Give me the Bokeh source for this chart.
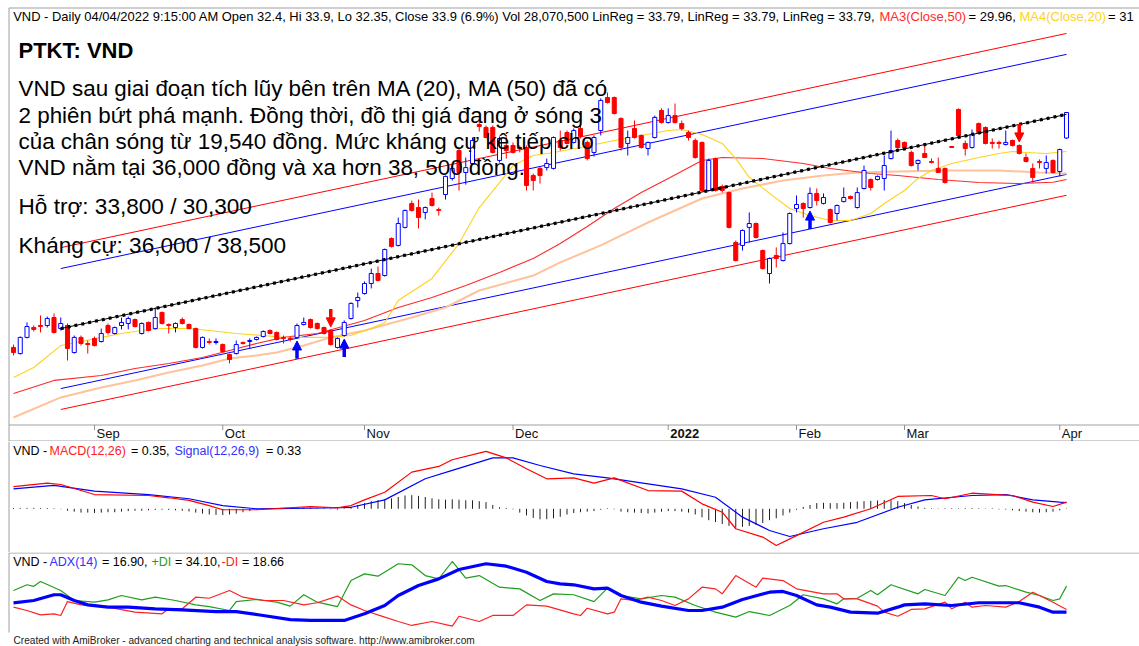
import numpy as np
from bokeh.plotting import figure
from bokeh.models import Range1d, ColumnDataSource, Arrow, NormalHead
from bokeh.layouts import column
from bokeh.embed import file_html
from bokeh.resources import INLINE
from bokeh.core.properties import value

# ---------------- data ----------------
opens = [20.08,19.72,20.67,21.25,21.37,21.37,21.84,21.19,21.37,19.78,
         20.67,20.31,20.61,20.43,21.37,20.90,21.37,21.49,21.72,20.90,
         21.55,21.19,22.14,21.43,21.25,21.72,21.43,21.19,20.08,20.43,
         20.37,20.25,19.66,19.72,20.37,20.43,20.55,20.72,21.08,20.96,
         20.67,20.61,20.67,21.43,21.72,21.49,21.25,21.08,20.08,20.78,
         21.78,22.84,23.25,23.84,24.43,24.31,26.49,26.08,27.14,28.55,
         28.31,28.02,28.84,28.19,29.08,30.02,31.66,30.37,30.90,33.19,
         33.02,33.02,31.08,31.96,31.96,31.84,31.84,30.19,30.61,30.66,
         30.61,32.25,32.72,32.14,32.96,32.14,31.55,32.84,34.78,34.78,
         33.55,32.08,32.96,32.55,31.78,32.43,34.02,33.31,33.72,33.25,
         32.72,32.25,32.14,29.31,31.19,29.55,29.19,26.25,26.08,27.14,
         27.37,25.78,24.43,25.49,25.19,26.19,28.25,28.55,28.31,29.14,
         28.55,28.19,27.96,28.66,28.96,28.31,29.43,29.96,29.96,30.02,
         31.19,32.25,32.14,31.55,30.90,31.49,31.02,30.61,30.61,31.90,
         34.08,32.08,31.84,33.25,33.02,32.14,32.14,32.02,32.25,31.96,
         31.25,30.61,31.02,30.61,31.08,30.43,32.40]
highs = [20.25,20.72,21.55,21.37,21.96,21.90,22.08,21.84,21.49,20.78,
         20.78,20.49,20.72,21.19,21.49,21.31,21.84,21.90,21.78,21.55,
         21.61,22.43,22.19,21.49,21.55,21.84,21.49,21.25,20.72,20.61,
         20.61,20.31,19.72,20.49,20.43,20.61,20.72,21.08,21.14,21.02,
         20.78,20.72,21.49,21.84,21.78,21.55,21.31,21.14,20.67,21.67,
         22.73,23.31,23.96,24.72,24.84,25.90,26.55,27.72,28.19,28.72,
         28.78,28.37,29.19,28.31,30.19,30.78,31.84,31.25,32.43,33.55,
         33.14,33.14,32.49,32.55,32.14,31.96,31.96,30.31,30.72,31.19,
         32.49,32.84,32.84,32.96,33.14,32.25,32.55,34.73,35.08,34.84,
         33.61,32.84,33.43,32.61,32.19,33.72,34.14,34.14,34.43,33.43,
         32.84,32.37,32.19,31.19,31.25,29.66,29.25,26.37,27.02,28.02,
         27.43,25.84,25.37,25.96,26.84,28.02,29.02,28.61,29.49,29.43,
         29.14,28.25,28.49,29.49,29.02,29.49,30.78,30.02,30.19,31.37,
         32.84,32.37,32.19,31.66,31.14,31.96,31.19,31.25,30.66,31.90,
         34.14,32.25,32.90,33.31,33.08,32.37,32.25,32.84,32.31,32.02,
         31.49,30.90,31.14,31.37,31.14,31.78,33.90]
lows = [19.61,19.66,20.61,21.02,20.96,21.25,20.90,21.08,19.31,19.72,
        20.19,19.72,20.14,20.37,20.84,20.84,21.14,21.14,21.25,20.84,
        21.02,21.14,21.43,20.90,20.96,21.43,21.14,20.02,20.02,20.25,
        20.25,19.78,19.14,19.66,20.25,20.02,20.49,20.67,20.84,20.49,
        20.31,20.43,20.61,21.37,21.19,21.14,20.84,20.19,20.02,20.72,
        21.72,22.43,23.19,23.55,23.96,24.25,25.96,26.02,27.08,28.08,
        27.08,27.61,28.37,27.84,28.78,29.90,29.31,29.66,30.84,32.78,
        32.37,31.49,30.96,31.19,31.49,31.55,29.31,29.31,29.72,30.49,
        30.55,31.66,32.02,32.08,32.37,31.08,31.31,32.55,34.43,33.78,
        31.66,31.37,32.37,31.78,31.37,32.37,33.25,33.25,33.25,32.84,
        32.25,31.19,29.25,29.25,29.25,29.19,27.08,25.14,25.78,26.25,
        26.49,24.66,23.84,24.78,25.14,26.14,28.02,27.72,28.25,28.43,
        28.49,27.37,27.55,28.61,28.78,28.25,29.37,29.31,29.90,29.31,
        31.14,31.78,31.78,30.72,30.49,31.25,30.90,30.37,29.72,31.84,
        32.49,31.37,31.78,32.66,32.02,31.78,31.78,31.96,31.90,31.43,
        30.96,29.78,30.61,30.31,30.31,30.14,32.35]
closes = [19.78,20.67,21.31,21.14,21.31,21.78,20.96,21.49,20.02,20.67,
          20.31,20.25,20.19,20.90,20.96,21.25,21.55,21.78,21.31,21.49,
          21.08,21.84,21.49,21.37,21.49,21.49,21.19,20.08,20.67,20.37,
          20.43,19.84,19.37,20.25,20.31,20.49,20.67,21.02,20.90,20.55,
          20.61,20.55,21.37,21.55,21.25,21.19,20.90,20.25,20.61,21.55,
          22.67,23.02,23.84,24.43,24.02,25.84,26.02,27.37,28.14,28.14,
          27.72,28.31,28.43,28.14,30.14,30.61,30.37,30.66,32.25,33.08,
          32.43,31.55,32.37,31.66,31.55,31.78,29.61,29.90,30.19,30.90,
          32.43,31.84,32.08,32.84,32.49,31.19,32.43,34.61,34.49,33.84,
          31.84,32.43,32.43,31.84,32.14,33.61,33.31,33.72,33.31,32.96,
          32.43,31.25,29.31,31.08,29.31,29.31,27.14,25.19,26.96,27.37,
          26.55,24.72,25.31,25.31,26.19,27.96,28.49,28.25,29.14,28.72,
          28.90,27.43,28.43,28.90,28.84,29.19,30.49,29.49,30.14,30.78,
          31.66,31.84,31.84,30.78,31.08,31.25,30.96,30.37,29.78,31.84,
          32.55,31.78,32.61,32.72,32.08,32.08,32.08,32.14,31.96,31.49,
          31.02,30.08,30.96,30.96,30.37,31.72,33.90]

month_labels = ["Sep", "Oct", "Nov", "Dec", "2022", "Feb", "Mar", "Apr"]
month_index = [12, 31, 52, 74, 97, 116, 132, 155]

ma20_idx = [0,3,7,10,13,16,19,22,26,29,33,37,40,43,47,50,53,55,57,62,66,69,72,74,77,80,84,89,93,97,
            99,102,105,107,109,112,115,118,121,124,127,129,132,134,136,139,143,146,148,150,153,156]
ma20_val = [18.31,18.90,20.19,20.43,20.67,20.90,21.08,21.19,21.19,21.08,20.90,20.78,20.67,20.67,20.67,
            20.78,21.19,21.55,22.84,24.14,26.19,28.31,29.78,30.78,31.37,31.55,31.84,32.25,32.55,32.84,
            32.90,32.61,32.08,31.19,30.08,29.14,28.25,27.84,27.55,27.55,27.96,28.55,29.31,30.02,30.49,
            30.90,31.25,31.49,31.61,31.55,31.49,31.61]
ma50_idx = [0,6,13,18,23,28,32,36,40,45,52,57,62,67,72,77,81,85,89,93,97,102,105,111,117,121,127,131,
            137,143,149,154,156]
ma50_val = [17.37,18.14,18.43,18.84,19.14,19.49,19.90,20.31,20.67,20.90,21.67,22.43,23.02,23.72,24.49,
            25.31,26.19,27.19,28.25,29.19,30.02,31.08,31.25,31.19,30.90,30.61,30.31,30.19,29.96,29.78,
            29.72,29.80,29.96]
slow_idx = [0,7,13,18,23,28,32,36,39,43,47,52,59,64,69,77,81,87,94,102,108,114,120,125,131,139,146,152,156]
slow_val = [15.96,17.14,17.72,18.14,18.61,19.02,19.43,19.61,19.78,20.19,20.67,21.08,21.84,22.43,23.43,
            24.31,25.08,26.08,27.43,28.84,29.43,29.90,30.19,30.37,30.43,30.49,30.49,30.37,30.31]

linreg_idx = [7, 156]
linreg_val = [21.19, 33.79]
band_inner = 3.53
band_outer = 4.76

buy_idx = [42, 49, 118]
sell_idx = [47, 149]

macd_idx = [0,5,7,12,20,23,26,29,31,36,44,48,50,52,55,59,63,65,70,73,76,79,83,86,89,94,99,102,105,107,
            111,113,116,120,123,127,131,136,138,142,148,151,154,156]
macd_val = [1.17,1.35,1.28,0.75,0.70,0.58,0.44,0.17,-0.05,-0.05,0.12,0.05,0.17,0.47,0.87,1.93,2.23,2.58,
            3.02,2.68,2.11,1.58,1.63,1.35,1.63,0.96,0.93,0.26,-0.18,-1.05,-1.49,-1.93,-1.41,-0.71,-0.44,
            0.0,0.65,0.70,0.53,0.82,0.70,0.35,0.12,0.35]
signal_idx = [0,6,12,20,26,31,36,46,50,55,61,65,71,74,78,83,88,99,104,108,112,115,120,125,131,135,142,
              147,151,155,156]
signal_val = [1.05,1.23,0.93,0.75,0.53,0.17,0.0,0.05,0.08,0.47,1.58,2.02,2.68,2.68,2.28,1.84,1.63,1.05,
              0.61,-0.44,-1.14,-1.46,-1.05,-0.71,0.08,0.47,0.70,0.75,0.47,0.35,0.33]
macd_hist = [0.04,0.04,0.05,0.05,0.04,0.04,0.03,-0.02,-0.1,-0.15,
             -0.2,-0.2,-0.22,-0.2,-0.18,-0.18,-0.15,-0.12,-0.1,-0.1,
             -0.08,-0.06,-0.05,-0.06,-0.08,-0.1,-0.14,-0.2,-0.25,-0.3,
             -0.32,-0.33,-0.3,-0.25,-0.18,-0.12,-0.06,-0.03,0.02,0.04,
             0.04,0.03,0.05,0.06,0.05,0.04,0.03,-0.03,-0.04,0.03,
             0.1,0.2,0.3,0.4,0.45,0.5,0.55,0.62,0.7,0.72,
             0.68,0.62,0.55,0.5,0.48,0.5,0.48,0.45,0.45,0.4,
             0.35,0.2,0.08,0.04,-0.03,-0.2,-0.35,-0.48,-0.55,-0.55,
             -0.5,-0.42,-0.3,-0.22,-0.18,-0.15,-0.12,-0.05,0.03,-0.03,
             -0.15,-0.18,-0.2,-0.22,-0.25,-0.2,-0.15,-0.12,-0.12,-0.15,
             -0.2,-0.3,-0.45,-0.6,-0.7,-0.8,-0.9,-1.0,-0.95,-0.9,
             -0.85,-0.75,-0.6,-0.5,-0.35,-0.2,-0.05,0.1,0.2,0.3,
             0.32,0.3,0.3,0.32,0.35,0.38,0.4,0.42,0.44,0.46,
             0.45,0.4,0.3,0.2,0.12,0.05,0.03,0.02,0.03,0.04,
             0.03,0.04,0.04,0.03,0.02,0.03,-0.03,-0.04,-0.08,-0.12,
             -0.15,-0.18,-0.2,-0.18,-0.15,-0.08,0.02]

adx_idx = [0,3,6,7,9,11,14,17,21,25,30,33,37,41,44,49,52,55,57,60,63,66,70,73,76,79,81,83,86,88,
           90,93,96,100,102,105,108,112,114,116,119,121,124,128,131,132,135,139,143,149,152,154,156]
adx_val = [23.0,24.6,28.4,28.4,24.6,21.7,20.2,20.2,19.1,18.4,17.3,17.3,14.7,12.0,11.4,11.4,15.8,21.3,
           27.9,34.5,38.9,45.1,48.9,47.3,43.3,37.2,35.6,35.0,32.3,32.8,27.9,23.5,20.9,18.0,18.0,20.2,
           25.3,30.1,30.6,27.9,21.7,20.2,16.9,16.2,20.2,21.7,22.4,21.3,23.1,23.1,20.2,16.9,16.9]
pdi_idx = [0,2,3,4,7,9,12,14,16,19,21,24,27,29,32,33,36,39,41,43,45,48,50,52,54,57,59,61,63,65,
           67,69,72,75,78,80,83,86,88,90,93,96,98,101,104,107,109,112,115,117,120,122,123,125,127,128,
           130,134,135,138,140,141,142,146,147,150,152,154,155,156]
pdi_val = [31.2,35.0,34.0,37.2,31.2,24.6,23.5,25.0,27.9,25.0,26.8,24.6,21.7,20.6,18.0,23.9,25.3,23.5,
           20.9,28.4,23.5,20.6,37.8,42.2,40.7,48.9,48.2,41.1,38.9,50.4,39.4,41.1,33.4,32.3,24.6,29.0,
           28.4,23.9,32.8,27.9,25.7,27.9,26.8,21.3,16.9,13.6,17.3,14.7,21.3,28.4,25.7,22.4,25.7,26.1,
           31.2,28.4,35.0,29.0,31.9,27.9,40.0,37.8,40.0,34.1,34.5,30.1,27.9,24.6,25.7,34.1]
mdi_idx = [0,2,4,6,7,8,10,14,18,22,23,25,27,29,32,34,37,40,43,45,48,50,52,55,57,59,62,65,66,69,
           71,74,76,79,83,84,85,88,89,90,92,94,96,98,100,102,104,105,107,110,111,114,116,120,122,123,
           125,128,129,131,133,135,138,139,141,142,144,147,149,151,152,154,156]
mdi_val = [20.2,18.0,15.1,15.8,14.7,23.9,21.7,20.2,16.9,15.8,19.1,19.1,26.8,26.1,31.2,26.8,24.6,24.6,
           21.7,23.1,27.5,21.7,18.0,13.6,10.7,8.1,10.7,7.6,14.2,10.7,14.7,14.7,21.7,20.9,15.8,14.7,
           19.5,15.8,16.9,25.7,24.6,26.8,24.6,21.3,25.7,33.4,32.3,29.0,41.1,33.4,39.4,37.8,32.3,29.0,
           29.0,25.7,25.7,20.9,16.9,14.2,18.7,19.1,23.5,19.1,23.5,20.2,21.3,20.2,23.9,30.1,27.9,23.5,18.66]

title_text = ("VND - Daily 04/04/2022 9:15:00 AM Open 32.4, Hi 33.9, Lo 32.35, Close 33.9 (6.9%) "
              "Vol 28,070,500 LinReg = 33.79, LinReg = 33.79, LinReg = 33.79,")
note_title = "PTKT: VND"
note_lines = ["VND sau giai đoạn tích lũy bên trên MA (20), MA (50) đã có",
              "2 phiên bứt phá mạnh. Đồng thời, đồ thị giá đang ở sóng 3",
              "của chân sóng từ 19,540 đồng. Mức kháng cự kế tiếp cho",
              "VND nằm tại 36,000 đồng và xa hơn 38, 500 đồng."]
support_text = "Hỗ trợ: 33,800 / 30,300"
resist_text = "Kháng cự: 36,000 / 38,500"
footer_text = ("Created with AmiBroker - advanced charting and technical analysis software. "
               "http://www.amibroker.com")

# ---------------- styling / layout helpers ----------------
FONT = "Liberation Sans"
RED = "#FF0000"
BLUE = "#0000FF"
YEL = "#FFD21A"
PEACH = "#FFC29A"
GREEN = "#1E9E1E"
GRAY = "#A0A0A0"
W = 1139

def XP(px):  # page pixel -> bar index (for placing annotations)
    return (px - 13.0) / 6.75

def YP(py):
    return 33.9 - (py - 112.0) / 17.0

def YM(py):
    return (508.3 - py) / 19.0

def YA(py):
    return (637.2 - py) / 1.512

def make_fig(h, yr, xr):
    f = figure(width=W, height=h, x_range=xr, y_range=yr,
               x_axis_location=None, y_axis_location=None, toolbar_location=None,
               output_backend="svg", min_border=0, outline_line_color=None)
    f.grid.grid_line_color = None
    f.background_fill_color = "white"
    f.border_fill_color = "white"
    return f

def put_text(f, txt, px, y, color="#000000", size="13px", bold=False, baseline="middle"):
    f.text(x=[XP(px)], y=[y], text=[txt], text_color=color, text_font=value(FONT),
           text_font_size=value(size), text_font_style="bold" if bold else "normal",
           text_baseline=baseline, text_align="left")

xr = Range1d(XP(0), XP(W))

# ---------------- price pane ----------------
p = make_fig(441, Range1d(YP(441), YP(0)), xr)

for off, col in [(band_outer, RED), (band_inner, BLUE), (-band_inner, BLUE), (-band_outer, RED)]:
    p.line(linreg_idx, [linreg_val[0] + off, linreg_val[1] + off], line_color=col, line_width=1)

p.line(slow_idx, slow_val, line_color=PEACH, line_width=2)
p.line(ma50_idx, ma50_val, line_color="#FF2A2A", line_width=1.1)
p.line(ma20_idx, ma20_val, line_color=YEL, line_width=1.1)

o = np.array(opens); h = np.array(highs); l = np.array(lows); c = np.array(closes)
idx = np.arange(len(o))
up = c >= o
dn = ~up
p.segment(x0=idx[up], y0=l[up], x1=idx[up], y1=h[up], line_color=BLUE, line_width=1)
p.segment(x0=idx[dn], y0=l[dn], x1=idx[dn], y1=h[dn], line_color=RED, line_width=1)
p.vbar(x=idx[up], width=0.6, top=c[up], bottom=o[up], fill_color="white", line_color=BLUE, line_width=1)
p.vbar(x=idx[dn], width=0.6, top=o[dn], bottom=c[dn], fill_color=RED, line_color=RED, line_width=1)

p.line(linreg_idx, linreg_val, line_color="black", line_width=1)
p.line(linreg_idx, linreg_val, line_color="black", line_width=3.2, line_dash="3 4")

buy_src = ColumnDataSource(dict(x=buy_idx, y0=[l[i] - 1.2 for i in buy_idx], y1=[l[i] - 0.15 for i in buy_idx]))
sell_src = ColumnDataSource(dict(x=sell_idx, y0=[h[i] + 1.2 for i in sell_idx], y1=[h[i] + 0.15 for i in sell_idx]))
p.add_layout(Arrow(end=NormalHead(size=9, fill_color=BLUE, line_color=BLUE, line_width=1),
                   x_start="x", y_start="y0", x_end="x", y_end="y1", source=buy_src,
                   line_color=BLUE, line_width=3.5))
p.add_layout(Arrow(end=NormalHead(size=9, fill_color=RED, line_color=RED, line_width=1),
                   x_start="x", y_start="y0", x_end="x", y_end="y1", source=sell_src,
                   line_color=RED, line_width=3.5))

# borders and month strip
p.segment(x0=[XP(8.5)], y0=[YP(7.5)], x1=[XP(W)], y1=[YP(7.5)], line_color=GRAY, line_width=1)
p.segment(x0=[XP(8.5)], y0=[YP(424.5)], x1=[XP(W)], y1=[YP(424.5)], line_color=GRAY, line_width=1)
p.segment(x0=[XP(8.5)], y0=[YP(440.5)], x1=[XP(W)], y1=[YP(440.5)], line_color=GRAY, line_width=1)
p.segment(x0=[XP(8.5)], y0=[YP(7.5)], x1=[XP(8.5)], y1=[YP(441)], line_color=GRAY, line_width=1)
p.segment(x0=month_index, y0=[YP(424.5)] * len(month_index), x1=month_index,
          y1=[YP(429.5)] * len(month_index), line_color="#909090", line_width=1)
for lab, mi in zip(month_labels, month_index):
    p.text(x=[mi + 0.3], y=[YP(433)], text=[lab], text_color="#111111", text_font=value(FONT),
           text_font_size=value("13px"), text_font_style="bold" if lab == "2022" else "normal",
           text_baseline="middle", text_align="left")

# title line
put_text(p, title_text, 12.7, YP(15.5), size="12.94px")
put_text(p, "MA3(Close,50)", 879, YP(15.5), color="#FF2A2A", size="13px")
put_text(p, "= 29.96,", 968, YP(15.5), size="13px")
put_text(p, "MA4(Close,20)", 1019, YP(15.5), color=YEL, size="13px")
put_text(p, "= 31", 1107.5, YP(15.5), size="13px")

# analyst notes
put_text(p, note_title, 18, YP(50), size="22px", bold=True, baseline="alphabetic")
for txt, base in zip(note_lines, [88, 114.5, 141, 167]):
    put_text(p, txt, 18, YP(base), size="22.4px", baseline="alphabetic")
put_text(p, support_text, 18, YP(206), size="22.6px", baseline="alphabetic")
put_text(p, resist_text, 18, YP(245), size="22.6px", baseline="alphabetic")

# ---------------- MACD pane ----------------
pm = make_fig(111, Range1d(YM(552), YM(441)), xr)
pm.segment(x0=idx, y0=[0.0] * len(idx), x1=idx, y1=macd_hist, line_color="#222222", line_width=1)
pm.line(signal_idx, signal_val, line_color=BLUE, line_width=1.2)
pm.line(macd_idx, macd_val, line_color=RED, line_width=1.2)
pm.segment(x0=[XP(8.5)], y0=[YM(441)], x1=[XP(8.5)], y1=[YM(552)], line_color=GRAY, line_width=1)
ym = YM(450.5)
put_text(pm, "VND -", 12.7, ym, size="12.5px")
put_text(pm, "MACD(12,26)", 49, ym, color="#FF2020", size="12.5px")
put_text(pm, "= 0.35,", 130.5, ym, size="12.5px")
put_text(pm, "Signal(12,26,9)", 174, ym, color="#3030FF", size="12.5px")
put_text(pm, "= 0.33", 265.5, ym, size="12.5px")

# ---------------- ADX pane ----------------
pa = make_fig(94, Range1d(YA(646), YA(552)), xr)
pa.line(pdi_idx, pdi_val, line_color=GREEN, line_width=1.2)
pa.line(mdi_idx, mdi_val, line_color="#FF2020", line_width=1.2)
pa.line(adx_idx, adx_val, line_color=BLUE, line_width=3.2)
pa.segment(x0=[XP(8.5)], y0=[YA(552.5)], x1=[XP(W)], y1=[YA(552.5)], line_color=GRAY, line_width=1)
pa.segment(x0=[XP(8.5)], y0=[YA(552)], x1=[XP(8.5)], y1=[YA(632)], line_color=GRAY, line_width=1)
ya = YA(561.5)
put_text(pa, "VND -", 12.7, ya, size="12.5px")
put_text(pa, "ADX(14)", 49, ya, color="#3030FF", size="12.5px")
put_text(pa, "= 16.90,", 101.5, ya, size="12.5px")
put_text(pa, "+DI", 151, ya, color=GREEN, size="12.5px")
put_text(pa, "= 34.10,", 174.5, ya, size="12.5px")
put_text(pa, "-DI", 221, ya, color="#FF2020", size="12.5px")
put_text(pa, "= 18.66", 241.5, ya, size="12.5px")
put_text(pa, footer_text, 13, YA(640), color="#222222", size="10.1px")

layout = column(p, pm, pa, spacing=0)
open("out.html", "w").write(file_html(layout, INLINE))
